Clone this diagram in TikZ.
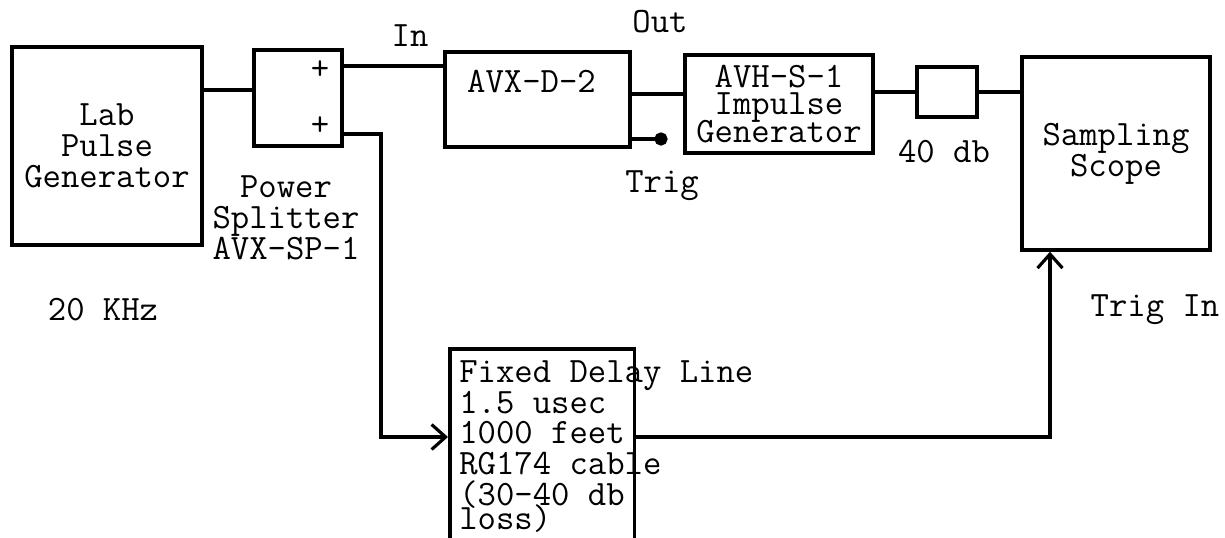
\documentclass[tikz,border=0pt]{standalone}
\usepackage{fontspec}
\usetikzlibrary{arrows.meta}

\begin{document}
\begin{tikzpicture}
[
	x=0.02cm, y=-0.02cm,
	font=\ttfamily\fontsize{20.3}{17.6}\selectfont,
	box/.style={rectangle,draw,line width=2pt,inner sep=0pt},
	wire/.style={line width=1.8pt},
	closedpt/.style={circle,draw,fill,inner sep=0pt,minimum size=0.2cm},
	>={Straight Barb[length=0.28cm,width=0.5cm,line width=1.8pt]}
]
	\clip (0,0) rectangle (1225,538);
	\useasboundingbox (0,0) rectangle (1225,538);

	% boxes
	\node[box,minimum width=3.8cm,minimum height=3.96cm,align=center] (lpg) at (107,146) {Lab\\Pulse\\Generator};
	\node[box,minimum width=1.76cm,minimum height=1.92cm] (split) at (298,98) {};
	\node[box,minimum width=3.7cm,minimum height=1.9cm] (dly) at (537.5,99.5) {};
	\node[box,minimum width=3.76cm,minimum height=1.96cm,align=center] (imp) at (779,104) {AVH-S-1\\[-0.06cm]Impulse\\[-0.06cm]Generator};
	\node[box,minimum width=1.2cm,minimum height=1.0cm] (att) at (947,92) {};
	\node[box,minimum width=3.76cm,minimum height=3.86cm,align=center] (scope) at (1116,153.5) {Sampling\\Scope};
	\node[box,minimum width=3.7cm,minimum height=4.6cm,anchor=north west] (delay) at (448,347) {};

	% texts in boxes
	\node (plusa) at (320,70) {+};
	\node (plusb) at (320,126) {+};
	\node[anchor=west] (dlytxt) at (461,82) {AVX-D-2};
	\node[anchor=north west,align=left,inner sep=0pt] (delaytxt) at (459,360) {Fixed Delay Line\\1.5 usec\\1000 feet\\RG174 cable\\(30-40 db\\[-0.14cm]loss)};

	% ports
	\coordinate (sin) at (254,90);
	\coordinate (souta) at (343,66);
	\coordinate (soutb) at (343,134);
	\coordinate (dout) at (630,94);
	\coordinate (trig) at (630,139);
	\coordinate (dlin) at (634,437);

	% wires
	\draw[wire] (lpg.east |- sin) -- (sin);
	\draw[wire] (souta) -- (souta -| dly.west);
	\draw[wire] (dout) -- (dout -| imp.west);
	\draw[wire] (trig) -- (661,139) node[closedpt] (trigpt) {};
	\draw[wire] (imp.east |- att.west) -- (att.west);
	\draw[wire] (att.east) -- (att.east -| scope.west);
	\draw[wire,->] (soutb) -| (381,437) -- (delay.west |- dlin);
	\draw[wire,->] (dlin) -| (scope.south -| 1050,0);

	% labels
	\node (inlbl) at (410,36) {In};
	\node (outlbl) at (660,22) {Out};
	\node (triglbl) at (662,186) {Trig};
	\node (attlbl) at (944,152) {40 db};
	\node[align=center] (splitlbl) at (286,218) {Power\\Splitter\\AVX-SP-1};
	\node (freq) at (103,310) {20 KHz};
	\node (triginlbl) at (1155,310) {Trig In};

\end{tikzpicture}
\end{document}
